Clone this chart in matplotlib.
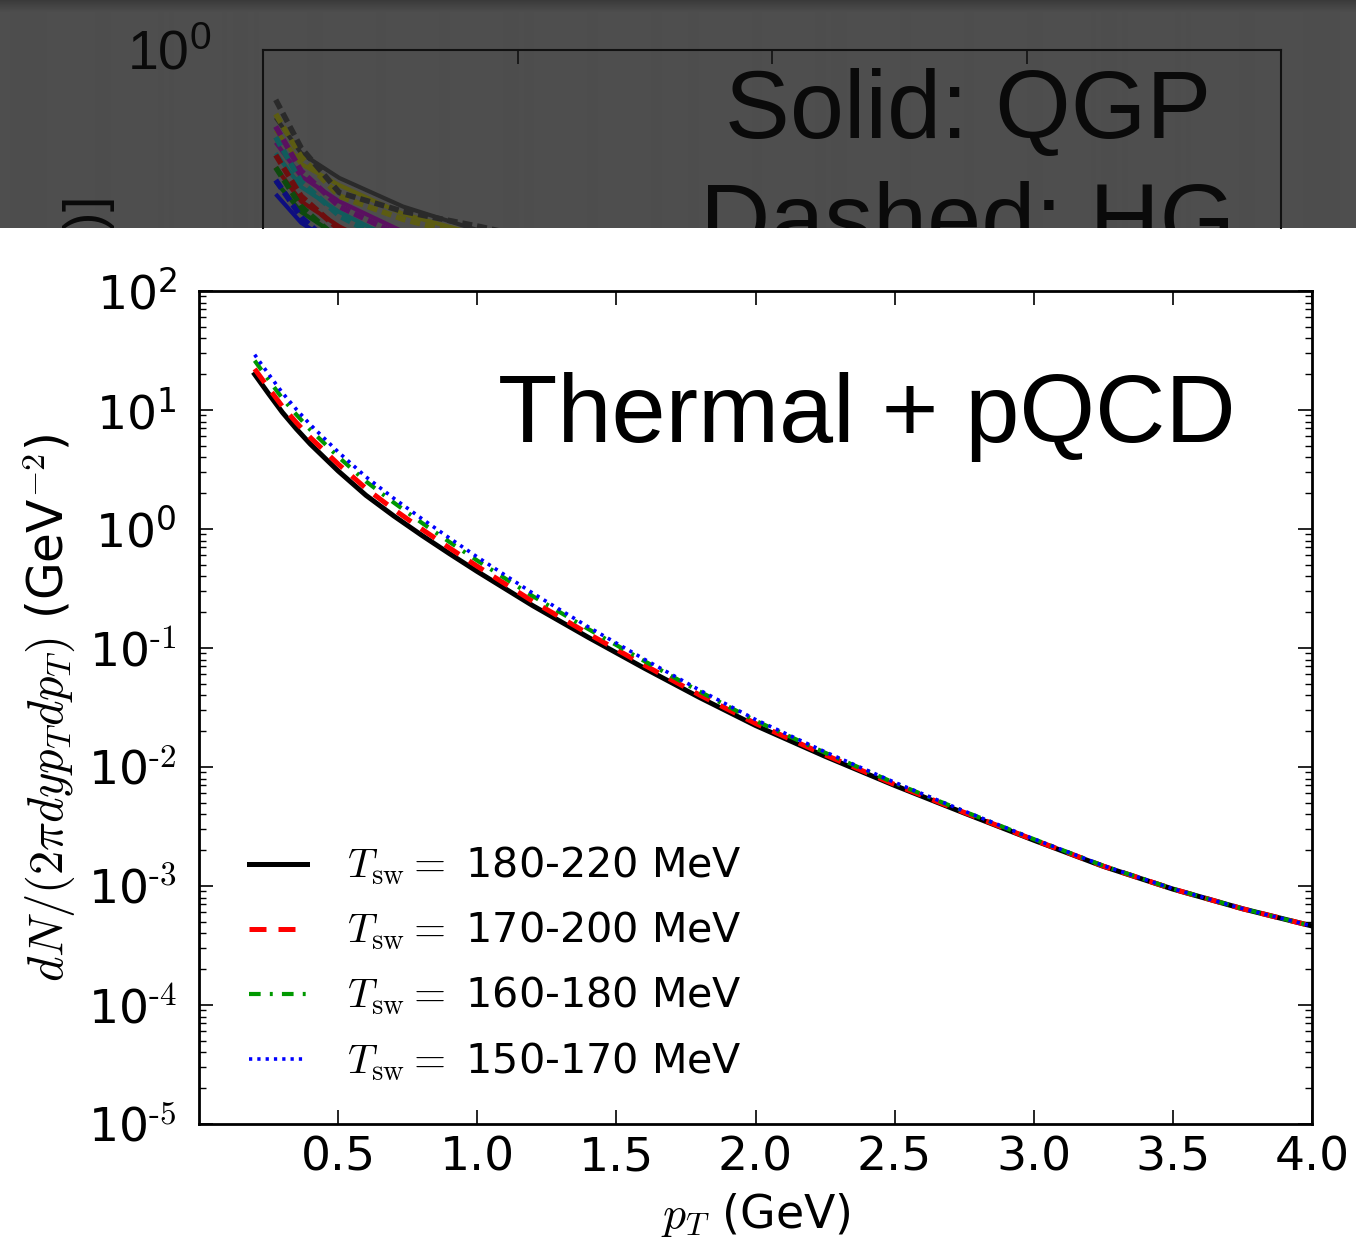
import numpy as np
import matplotlib
matplotlib.use("Agg")
import matplotlib.pyplot as plt
from matplotlib.ticker import FixedLocator, LogLocator, NullFormatter

plt.rcParams["mathtext.fontset"] = "cm"
plt.rcParams["font.family"] = ["DejaVu Sans"]

# ---------------- main panel data: thermal + pQCD photon spectra ----------------
pt = [0.2, 0.25, 0.3, 0.35, 0.4, 0.5, 0.6, 0.7, 0.8, 0.9, 1.0, 1.2, 1.4, 1.6, 1.8,
      2.0, 2.25, 2.5, 2.75, 3.0, 3.25, 3.5, 3.75, 4.0]
tsw_180_220 = [19.95, 13.71, 9.528, 6.934, 5.176, 3.076, 1.919, 1.288, 0.887, 0.621,
               0.4395, 0.2265, 0.1225, 0.06776, 0.03828, 0.02234, 0.01230, 6.998e-3,
               4.102e-3, 2.427e-3, 1.462e-3, 9.419e-4, 6.442e-4, 4.613e-4]
tsw_170_200 = [22.13, 15.31, 10.69, 7.834, 5.875, 3.516, 2.193, 1.462, 1.000, 0.6934,
               0.4864, 0.2466, 0.1315, 0.07194, 0.04018, 0.02323, 0.01265, 7.129e-3,
               4.150e-3, 2.443e-3, 1.469e-3, 9.441e-4, 6.442e-4, 4.613e-4]
tsw_160_180 = [26.00, 17.95, 12.50, 9.141, 6.823, 4.055, 2.512, 1.667, 1.130, 0.7780,
               0.5433, 0.2723, 0.1439, 0.07780, 0.04295, 0.02449, 0.01318, 7.345e-3,
               4.236e-3, 2.477e-3, 1.479e-3, 9.484e-4, 6.457e-4, 4.613e-4]
tsw_150_170 = [29.17, 20.04, 13.93, 10.12, 7.534, 4.446, 2.742, 1.811, 1.225, 0.8395,
               0.5821, 0.2884, 0.1500, 0.08054, 0.04416, 0.02506, 0.01340, 7.430e-3,
               4.266e-3, 2.489e-3, 1.483e-3, 9.484e-4, 6.457e-4, 4.613e-4]
series_labels = ["180-220 MeV", "170-200 MeV", "160-180 MeV", "150-170 MeV"]
x_ticks = [0.5, 1.0, 1.5, 2.0, 2.5, 3.0, 3.5, 4.0]
y_exponents = [-5, -4, -3, -2, -1, 0, 1, 2]

# ---------------- background slide panel: QGP (solid) vs HG (dashed) ----------------
bg_pt = [0.05, 0.15, 0.3, 0.55, 0.85, 1.2]
bg_black_hg = [0.525, 0.282, 0.158, 0.124, 0.102, 0.079]
bg_black_qgp = [0.417, 0.263, 0.191, 0.132, 0.0966, 0.0724]
bg_olive_hg = [0.437, 0.251, 0.151, 0.112, 0.0871, 0.0661]
bg_olive_qgp = [0.355, 0.229, 0.174, 0.120, 0.0912, 0.0692]
bg_purple_hg = [0.372, 0.209, 0.132, 0.0891, 0.0661, 0.0501]
bg_purple_qgp = [0.302, 0.195, 0.141, 0.0955, 0.0708, 0.0537]
bg_teal_hg = [0.324, 0.182, 0.117, 0.0759, 0.0550, 0.0417]
bg_teal_qgp = [0.263, 0.170, 0.123, 0.0813, 0.0589, 0.0447]
bg_red_hg = [0.257, 0.151, 0.0977, 0.0631, 0.0447, 0.0339]
bg_red_qgp = [0.219, 0.141, 0.102, 0.0676, 0.0479, 0.0363]
bg_green_hg = [0.219, 0.132, 0.0851, 0.0537, 0.0380, 0.0282]
bg_green_qgp = [0.182, 0.123, 0.0891, 0.0575, 0.0407, 0.0302]
bg_blue_hg = [0.186, 0.115, 0.0741, 0.0468, 0.0331, 0.0240]
bg_blue_qgp = [0.155, 0.107, 0.0776, 0.0501, 0.0355, 0.0257]

W, H = 1356, 1244
fig = plt.figure(figsize=(W / 100, H / 100), dpi=100)
fig.patch.set_facecolor("white")


def box(l, t, r, b):
    return [l / W, 1 - b / H, (r - l) / W, (b - t) / H]


def exp_label(e):
    # plain hyphen for negative exponents, as on the printed axis
    if e < 0:
        return r"$\mathregular{10^{\text{%d}}}$" % e
    return r"$\mathregular{10^{%d}}$" % e


# dimmed slide strip at the top
band = fig.add_axes(box(0, 0, W, 228))
grad = np.concatenate([np.linspace(0.23, 0.30, 12), np.full(216, 0.305)])[:, None]
band.imshow(grad, extent=[0, 1, 0, 1], aspect="auto", cmap="gray",
            vmin=0, vmax=1, interpolation="bilinear")
band.set_xlim(0, 1)
band.set_ylim(0, 1)
band.set_axis_off()
band.text(89 / W, 1 - 198 / 228, r"$dN/dp_T$ [(GeV)]", rotation=90,
          ha="center", va="top", fontsize=40, color="#0a0a0a",
          family="Liberation Sans", transform=band.transAxes, clip_on=True)

dim = fig.add_axes(box(263, 50, 1281, 228))
dim.set_facecolor("none")
dim.set_yscale("log")
dim.set_xlim(0, 4)
dim.set_ylim(0.1, 1.0)
for side in ("left", "top", "right"):
    dim.spines[side].set_color("#111111")
    dim.spines[side].set_linewidth(1.5)
dim.spines["bottom"].set_visible(False)
dim.xaxis.set_major_locator(FixedLocator([1, 2, 3]))
dim.tick_params(axis="x", which="both", direction="in", top=True, bottom=False,
                labeltop=False, labelbottom=False, length=10, width=1.2,
                color="#111111")
dim.yaxis.set_major_locator(FixedLocator([1.0]))
dim.yaxis.set_minor_locator(FixedLocator([]))
dim.set_yticklabels([r"$\mathregular{10^0}$"], fontsize=40,
                    family="Liberation Sans", color="#0a0a0a")
dim.tick_params(axis="y", which="both", length=0, pad=37)

bg_colors = ["#2a2a2a", "#5c5c12", "#5a1060", "#115c5c", "#6e0e0e", "#0e4a0e", "#0e0e80"]
bg_hg = [bg_black_hg, bg_olive_hg, bg_purple_hg, bg_teal_hg, bg_red_hg, bg_green_hg, bg_blue_hg]
bg_qgp = [bg_black_qgp, bg_olive_qgp, bg_purple_qgp, bg_teal_qgp, bg_red_qgp,
          bg_green_qgp, bg_blue_qgp]
for c, q in zip(bg_colors[::-1], bg_qgp[::-1]):
    dim.plot(bg_pt, q, color=c, lw=3.0, solid_capstyle="butt")
for c, h in zip(bg_colors[::-1], bg_hg[::-1]):
    dim.plot(bg_pt, h, color=c, lw=4.0, linestyle=(0, (1.8, 0.9)),
             dash_capstyle="butt")
dim.text(0.6925, 0.506, "Solid: QGP", transform=dim.transAxes, fontsize=70,
         family="Liberation Sans", color="#0a0a0a", ha="center", va="baseline",
         clip_on=True)
dim.text(0.6925, -0.129, "Dashed: HG", transform=dim.transAxes, fontsize=70,
         family="Liberation Sans", color="#0a0a0a", ha="center", va="baseline",
         clip_on=True)

# ---------------- main panel ----------------
ax = fig.add_axes(box(199, 291, 1312, 1124))
ax.set_yscale("log")
ax.set_xlim(0, 4.0)
ax.set_ylim(1e-5, 1e2)

styles = [
    dict(color="black", lw=3.6, linestyle="-"),
    dict(color="red", lw=3.6, linestyle=(0, (3.4, 2.4))),
    dict(color="#009900", lw=3.0, linestyle=(0, (2.8, 2.2, 0.7, 2.2))),
    dict(color="blue", lw=2.6, linestyle=(0, (0.9, 1.4))),
]
curves = [tsw_180_220, tsw_170_200, tsw_160_180, tsw_150_170]
for vals, st, lab in zip(curves, styles, series_labels):
    ax.plot(pt, vals, label=r"$T_{\rm sw} =$ " + lab, dash_capstyle="butt", **st)

ax.xaxis.set_major_locator(FixedLocator(x_ticks))
ax.set_xticklabels([f"{v:.1f}" for v in x_ticks])
ax.yaxis.set_major_locator(FixedLocator([10.0 ** e for e in y_exponents]))
ax.set_yticklabels([exp_label(e) for e in y_exponents])
ax.yaxis.set_minor_locator(LogLocator(base=10, subs=np.arange(2, 10), numticks=50))
ax.yaxis.set_minor_formatter(NullFormatter())
ax.tick_params(which="both", direction="in", top=True, right=True, color="black")
ax.tick_params(which="major", length=10, width=1.2, labelsize=34)
ax.tick_params(which="minor", length=5, width=1.0)
ax.tick_params(axis="x", which="major", pad=8)
ax.tick_params(axis="y", which="major", pad=16)
for s in ax.spines.values():
    s.set_linewidth(2.0)

ax.set_xlabel(r"$p_T$ (GeV)", fontsize=33, labelpad=8)
ax.set_ylabel(r"$dN/(2\pi dy p_T dp_T)$ (GeV$^{-2}$)", fontsize=35, labelpad=8)

ax.text(0.600, 0.819, "Thermal + pQCD", transform=ax.transAxes, fontsize=70,
        family="Liberation Sans", ha="center", va="baseline")

ax.legend(loc="lower left", bbox_to_anchor=(0.03, 0.03), frameon=False,
          fontsize=29.7, handlelength=1.4, handletextpad=0.97, labelspacing=0.56,
          borderaxespad=0.0)

fig.savefig("out.png", dpi=100)
